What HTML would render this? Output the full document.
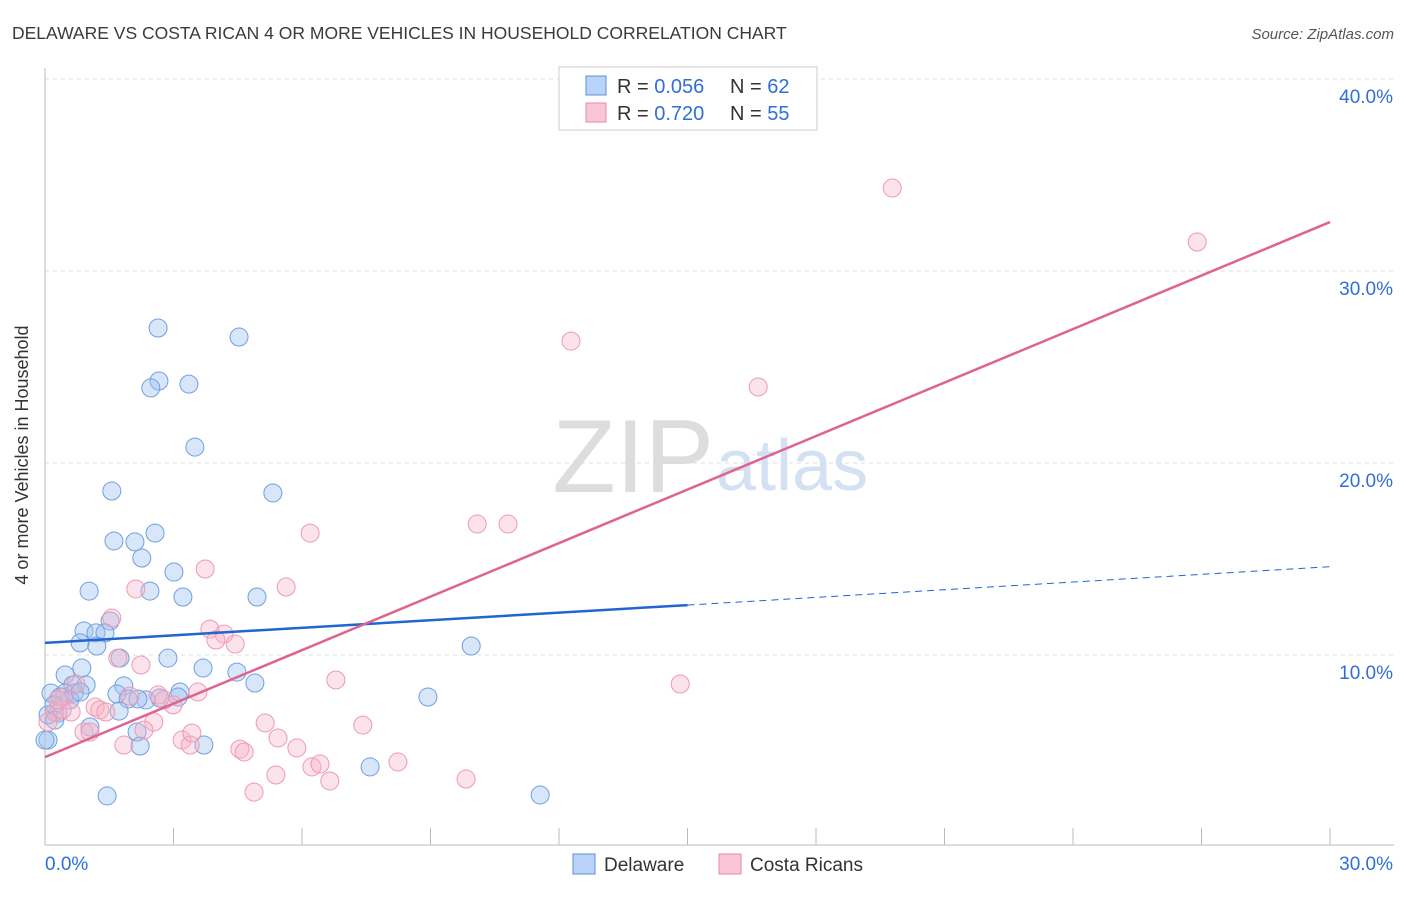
<!DOCTYPE html>
<html><head><meta charset="utf-8"><style>
body{margin:0;background:#fff;font-family:"Liberation Sans",sans-serif}
svg text{font-family:"Liberation Sans",sans-serif}
</style></head><body>
<svg width="1406" height="892">
<text x="12" y="39" font-size="17.5" fill="#3a3a3a">DELAWARE VS COSTA RICAN 4 OR MORE VEHICLES IN HOUSEHOLD CORRELATION CHART</text>
<text x="1394" y="39" font-size="15" fill="#555" font-style="italic" text-anchor="end">Source: ZipAtlas.com</text>
<g id="grid"></g>
<text x="714" y="492" font-size="104" fill="#ddd" text-anchor="end" font-family="Liberation Serif">ZIP</text>
<text x="716" y="490" font-size="72" fill="#d3e1f3">atlas</text>
<g id="marks"></g>
<text x="28" y="455" font-size="18" fill="#333" text-anchor="middle" transform="rotate(-90 28 455)">4 or more Vehicles in Household</text>
<g>
<rect x="559" y="67" width="258" height="63" fill="#fff" stroke="#ccc"/>
<rect x="586" y="76" width="20" height="19" fill="#b8d3f5" stroke="#5b8fd9"/>
<rect x="586" y="103" width="20" height="19" fill="#f9c6d5" stroke="#e88aa8"/>
<text x="617" y="93" font-size="20" fill="#333">R = <tspan fill="#2f6fd6">0.056</tspan></text>
<text x="730" y="93" font-size="20" fill="#333">N = <tspan fill="#2f6fd6">62</tspan></text>
<text x="617" y="120" font-size="20" fill="#333">R = <tspan fill="#2f6fd6">0.720</tspan></text>
<text x="730" y="120" font-size="20" fill="#333">N = <tspan fill="#2f6fd6">55</tspan></text>
</g>
<g>
<rect x="573" y="854" width="22" height="20" fill="#b8d3f5" stroke="#5b8fd9"/>
<text x="604" y="871" font-size="19" fill="#333">Delaware</text>
<rect x="719" y="854" width="22" height="20" fill="#f9c6d5" stroke="#e88aa8"/>
<text x="750" y="871" font-size="19" fill="#333">Costa Ricans</text>
</g>
</svg>
<script>
const yTicks=[10,20,30,40];
const xTickLabels=["0.0%","30.0%"];
const blueX=[2.64,4.53,2.66,2.47,3.36,3.50,1.56,5.32,2.57,1.61,2.10,2.26,3.01,1.03,2.45,3.22,4.95,1.52,0.91,1.19,1.40,0.82,1.21,9.95,1.75,2.87,0.86,0.47,3.69,4.48,0.65,0.96,1.84,4.90,0.14,0.47,0.68,0.35,1.68,2.36,1.94,3.15,3.11,2.17,8.94,0.21,1.73,0.30,0.07,1.05,2.15,2.22,3.71,0.07,7.59,1.45,11.56,0.58,0.82,0.23,0.00,2.68];
const blueY=[27.03,26.56,24.27,23.91,24.11,20.83,18.54,18.44,16.35,15.94,15.89,15.05,14.32,13.33,13.33,13.02,13.02,11.77,11.25,11.15,11.15,10.63,10.47,10.47,9.84,9.84,9.32,8.96,9.32,9.11,8.44,8.44,8.39,8.54,8.02,8.02,8.02,7.81,7.97,7.66,7.71,8.07,7.81,7.71,7.81,7.40,7.08,6.98,6.88,6.25,5.99,5.26,5.31,5.57,4.17,2.66,2.71,7.66,8.07,6.61,5.57,7.76];
const pinkX=[19.78,26.90,12.28,16.65,10.09,10.81,6.19,3.74,5.63,2.12,1.56,3.85,4.18,3.99,4.44,1.70,2.24,6.79,14.83,3.57,1.98,2.64,2.78,2.99,0.72,0.44,0.23,0.61,1.17,1.28,1.42,7.42,5.14,2.54,2.31,0.91,1.05,1.84,3.20,3.39,3.43,5.44,4.55,4.65,5.88,6.23,6.42,8.24,6.65,5.39,4.88,9.83,0.40,0.07,0.30];
const pinkY=[34.32,31.51,26.35,23.96,16.82,16.82,16.35,14.48,13.54,13.44,11.93,11.35,11.09,10.78,10.57,9.84,9.48,8.70,8.49,8.07,7.86,7.92,7.66,7.40,8.49,7.81,7.03,7.03,7.29,7.14,7.03,6.35,6.46,6.51,6.09,5.99,5.99,5.31,5.57,5.31,5.94,5.68,5.10,4.95,5.16,4.17,4.32,4.43,3.44,3.75,2.86,3.54,7.14,6.51,7.66];
const blueFit=[10.63,12.6,14.6];
const pinkFit=[4.68,32.55];
const sx=v=>45+v/30*1285, sy=v=>847-v*19.2;
const NS="http://www.w3.org/2000/svg";
const grid=document.getElementById('grid'), marks=document.getElementById('marks');
function mk(tag,attrs,parent){const e=document.createElementNS(NS,tag);for(const k in attrs)e.setAttribute(k,attrs[k]);parent.appendChild(e);return e;}
yTicks.forEach(t=>{
 const l=mk('line',{x1:45,x2:1394,y1:sy(t),y2:sy(t),stroke:'#ddd','stroke-dasharray':'4,4'},grid);
 
 
 const tx=mk('text',{x:1393,y:sy(t)+24,'font-size':19,fill:'#2f6fd6','text-anchor':'end'},grid);
 tx.textContent=t.toFixed(1)+'%';
 
 
});
const ax=mk('line',{x1:45,x2:1394,y1:845,y2:845,stroke:'#bbb'},grid);


const ay=mk('line',{x1:45,x2:45,y1:68,y2:845,stroke:'#bbb'},grid);


for(let i=0;i<=10;i++){const t=mk('line',{x1:sx(i*3),x2:sx(i*3),y1:828,y2:845,stroke:'#bbb'},grid);
 
 }
[[0,'start',45],[30,'end',1393]].forEach((d,i)=>{const t=mk('text',{x:d[2],y:870,'font-size':19,fill:'#2f6fd6','text-anchor':d[1]},grid);t.textContent=xTickLabels[i];
 
 });
function pts(X,Y,fill,stroke,name){X.forEach((x,i)=>{const c=mk('circle',{cx:sx(x),cy:sy(Y[i]),r:9,fill:fill,stroke:stroke,'stroke-width':1},marks);
 
 });}
pts(blueX,blueY,'rgba(160,196,240,0.42)','#6f9fe0','delaware-point');
pts(pinkX,pinkY,'rgba(247,180,200,0.38)','#ec9ab4','costa-rican-point');
const b1=mk('line',{x1:sx(0),y1:sy(blueFit[0]),x2:sx(15),y2:sy(blueFit[1]),stroke:'#2066d0','stroke-width':2.5},marks);


const b2=mk('line',{x1:sx(15),y1:sy(blueFit[1]),x2:sx(30),y2:sy(blueFit[2]),stroke:'#2066d0','stroke-width':1,'stroke-dasharray':'7,5'},marks);


const p1=mk('line',{x1:sx(0),y1:sy(pinkFit[0]),x2:sx(30),y2:sy(pinkFit[1]),stroke:'#e0628f','stroke-width':2.5},marks);


</script>
</body></html>
